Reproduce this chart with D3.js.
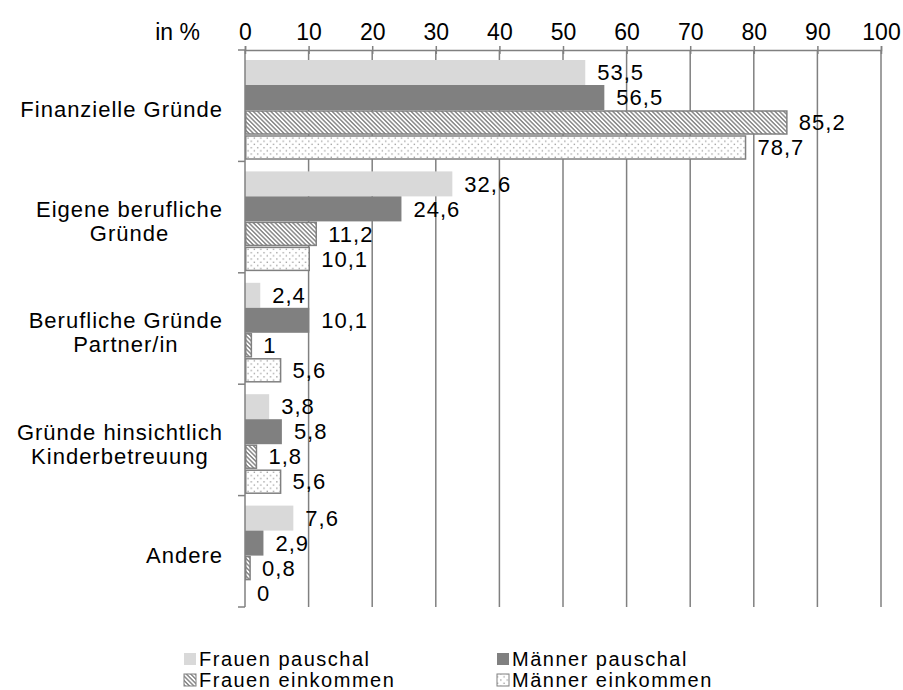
<!DOCTYPE html>
<html>
<head>
<meta charset="utf-8">
<script src="https://cdn.jsdelivr.net/npm/d3@7"></script>
<style>
  body { margin: 0; background: #fff; }
  text { font-family: "Liberation Sans", Arial, sans-serif; fill: #000; }
</style>
</head>
<body>
<svg id="chart" width="903" height="690"></svg>
<script>
// data
const categories = ["Finanzielle Gründe", "Eigene berufliche\nGründe", "Berufliche Gründe\nPartner/in", "Gründe hinsichtlich\nKinderbetreuung", "Andere"];
const series = ["Frauen pauschal", "Männer pauschal", "Frauen einkommen", "Männer einkommen"];
const frauenPauschal = [53.5, 32.6, 2.4, 3.8, 7.6];
const maennerPauschal = [56.5, 24.6, 10.1, 5.8, 2.9];
const frauenEinkommen = [85.2, 11.2, 1, 1.8, 0.8];
const maennerEinkommen = [78.7, 10.1, 5.6, 5.6, 0];
const ticks = [0, 10, 20, 30, 40, 50, 60, 70, 80, 90, 100];

const values = [frauenPauschal, maennerPauschal, frauenEinkommen, maennerEinkommen];
const gray = "#808080";
const fs = 22;

const svg = d3.select("#chart");

// patterns
const defs = svg.append("defs");
const hatch = defs.append("pattern")
  .attr("id", "hatch")
  .attr("patternUnits", "userSpaceOnUse")
  .attr("patternTransform", "rotate(45)")
  .attr("width", 3.1).attr("height", 3.1);
hatch.append("rect").attr("width", 3.1).attr("height", 3.1).attr("fill", "#fff");
hatch.append("rect").attr("width", 3.1).attr("height", 1.5).attr("fill", "#8a8a8a");

const dots = defs.append("pattern")
  .attr("id", "dots")
  .attr("patternUnits", "userSpaceOnUse")
  .attr("width", 6.4).attr("height", 6.4);
dots.append("rect").attr("width", 6.4).attr("height", 6.4).attr("fill", "#fff");
dots.append("rect").attr("x", 1).attr("y", 1).attr("width", 1.3).attr("height", 1.3).attr("fill", "#999");
dots.append("rect").attr("x", 4.2).attr("y", 4.2).attr("width", 1.3).attr("height", 1.3).attr("fill", "#999");

const fills = ["#d9d9d9", gray, "url(#hatch)", "url(#dots)"];
const strokes = ["none", "none", gray, gray];

const x = d3.scaleLinear().domain([0, 100]).range([245, 881]);
const y = d3.scaleBand().domain(categories).range([50, 607]);
const yInner = d3.scaleBand().domain(series).range([10, 110]);

// grid lines
svg.append("g")
  .selectAll("line")
  .data(ticks.filter(d => d > 0))
  .enter()
  .append("line")
  .attr("x1", d => x(d)).attr("x2", d => x(d))
  .attr("y1", 50).attr("y2", 607)
  .attr("stroke", gray).attr("stroke-width", 1.5);

// top axis
const xAxis = svg.append("g")
  .attr("transform", "translate(0,50)")
  .call(d3.axisTop(x).tickValues(ticks).tickSize(4).tickPadding(6));
xAxis.select(".domain").attr("stroke", gray).attr("stroke-width", 1.5);
xAxis.selectAll(".tick line").attr("stroke", gray).attr("stroke-width", 1.5).attr("y2", 4).attr("y1", -4);
xAxis.selectAll(".tick text")
  .attr("font-size", 23)
  .attr("font-family", "Liberation Sans, Arial, sans-serif")
  .attr("fill", "#000");

svg.append("text")
  .attr("x", 200).attr("y", 40)
  .attr("text-anchor", "end")
  .attr("font-size", 23)
  .text("in %");

// bars
const groups = svg.append("g")
  .selectAll("g")
  .data(categories)
  .enter()
  .append("g")
  .attr("transform", d => `translate(0,${y(d)})`);

groups.each(function(cat, ci) {
  const g = d3.select(this);
  series.forEach((s, si) => {
    const v = values[si][ci];
    const outlined = strokes[si] !== "none";
    g.append("rect")
      .attr("x", x(0) + (outlined ? 0.75 : 0))
      .attr("y", yInner(s) + (outlined ? 1 : 0))
      .attr("width", Math.max(0, x(v) - x(0) - (outlined ? 0.75 : 0)))
      .attr("height", yInner.bandwidth() - (outlined ? 2 : 0))
      .attr("fill", fills[si])
      .attr("stroke", strokes[si])
      .attr("stroke-width", 1.5);
    g.append("text")
      .attr("x", x(v) + 12)
      .attr("y", yInner(s) + yInner.bandwidth() / 2)
      .attr("dy", "0.35em")
      .attr("font-size", fs)
      .attr("letter-spacing", 1)
      .text(String(v).replace(".", ","));
  });
});

// left axis
svg.append("line")
  .attr("x1", x(0)).attr("x2", x(0))
  .attr("y1", 50).attr("y2", 607)
  .attr("stroke", gray).attr("stroke-width", 1.5);
svg.append("g")
  .selectAll("line")
  .data(categories.map(c => y(c)).concat([607]))
  .enter()
  .append("line")
  .attr("x1", x(0) - 7).attr("x2", x(0))
  .attr("y1", d => d).attr("y2", d => d)
  .attr("stroke", gray).attr("stroke-width", 1.5);

// category labels: right-aligned block, lines centered
categories.forEach(c => {
  const lines = c.split("\n");
  const t = svg.append("text").attr("font-size", fs).attr("letter-spacing", 1).attr("text-anchor", "middle");
  const widths = lines.map(l => {
    const s = svg.append("text").attr("font-size", fs).attr("letter-spacing", 1).text(l);
    const w = s.node().getComputedTextLength();
    s.remove();
    return w;
  });
  const cx = 223 - d3.max(widths) / 2;
  const cy = y(c) + y.bandwidth() / 2 + 4;
  lines.forEach((l, i) => {
    t.append("tspan")
      .attr("x", cx)
      .attr("y", cy + (i - (lines.length - 1) / 2) * 24)
      .attr("dy", "0.35em")
      .text(l);
  });
});

// legend
const legendPos = [[184, 659], [497, 659], [184, 680], [497, 680]];
series.forEach((s, i) => {
  const [lx, ly] = legendPos[i];
  const outlined = strokes[i] !== "none";
  svg.append("rect")
    .attr("x", lx).attr("y", ly - 6)
    .attr("width", 12).attr("height", 12)
    .attr("fill", fills[i])
    .attr("stroke", outlined ? gray : "none")
    .attr("stroke-width", 1);
  svg.append("text")
    .attr("x", lx + 15).attr("y", ly)
    .attr("dy", "0.35em")
    .attr("font-size", 20)
    .attr("letter-spacing", 1.5)
    .text(s);
});
</script>
</body>
</html>
